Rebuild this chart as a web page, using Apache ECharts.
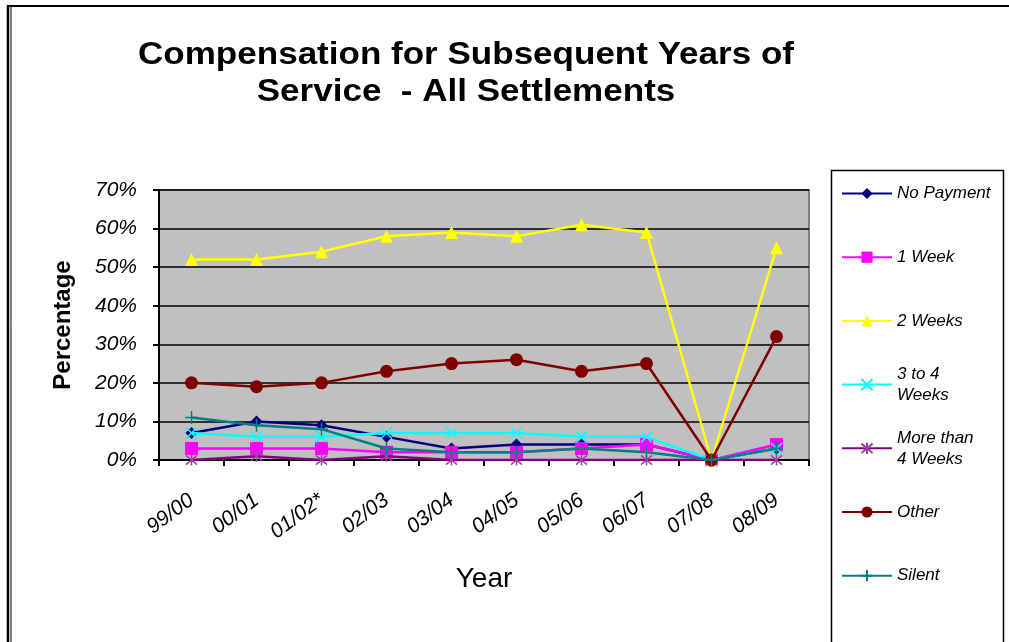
<!DOCTYPE html>
<html>
<head>
<meta charset="utf-8">
<script src="https://cdn.jsdelivr.net/npm/echarts@6/dist/echarts.min.js"></script>
<style>
  html, body { margin: 0; padding: 0; background: #fff; }
  #chart { width: 1009px; height: 642px; }
</style>
</head>
<body>
<div id="chart"></div>
<script>
// Settlement years on the category axis
const years = ['99/00', '00/01', '01/02*', '02/03', '03/04', '04/05', '05/06', '06/07', '07/08', '08/09'];

// Share of settlements (%) for each compensation type
const noPayment   = [7, 10, 9, 6, 3, 4, 4, 4, 0, 3];
const oneWeek     = [3, 3, 3, 2, 2, 2, 3, 4, 0, 4];
const twoWeeks    = [52, 52, 54, 58, 59, 58, 61, 59, 0, 55];
const threeToFour = [7, 6, 6, 7, 7, 7, 6, 6, 0, 3];
const moreThanFour = [0, 1, 0, 1, 0, 0, 0, 0, 0, 0];
const other       = [20, 19, 20, 23, 25, 26, 23, 25, 0, 32];
const silent      = [11, 9, 8, 3, 2, 2, 3, 2, 0, 3];

const yTicks = [0, 10, 20, 30, 40, 50, 60, 70];

const titleText = 'Compensation for Subsequent Years of\nService  - All Settlements';

const FONT = '"Liberation Sans", Arial, sans-serif';

const crossPath = 'path://M0,0L10,10M10,0L0,10';
const starPath = 'path://M0,0L10,10M10,0L0,10M5,-1L5,11';
const plusPath = 'path://M5,0L5,10M0,5L10,5';

const seriesDefs = [
  { name: 'No Payment', data: noPayment, color: '#000080', symbol: 'diamond', size: 12 },
  { name: '1 Week', data: oneWeek, color: '#FF00FF', symbol: 'rect', size: 13 },
  { name: '2 Weeks', data: twoWeeks, color: '#FFFF00', symbol: 'triangle', size: 13 },
  { name: '3 to 4 Weeks', data: threeToFour, color: '#00FFFF', symbol: crossPath, size: 11, stroke: true },
  { name: 'More than 4 Weeks', data: moreThanFour, color: '#800080', symbol: starPath, size: 11, stroke: true, markColor: '#A040A0' },
  { name: 'Other', data: other, color: '#800000', symbol: 'circle', size: 13 },
  { name: 'Silent', data: silent, color: '#008080', symbol: plusPath, size: 13, stroke: true }
];

const legendLabels = {
  '3 to 4 Weeks': '3 to 4\nWeeks',
  'More than 4 Weeks': 'More than\n4 Weeks'
};

const series = seriesDefs.map(function (d, i) {
  const mark = d.markColor || d.color;
  return {
    name: d.name,
    type: 'line',
    data: d.data,
    symbol: d.symbol,
    symbolSize: d.size,
    showAllSymbol: true,
    z: 2 + i,
    lineStyle: { color: d.color, width: 2.5 },
    itemStyle: d.stroke
      ? { color: mark, borderColor: mark, borderWidth: 1.5 }
      : { color: d.color, borderWidth: 0 },
    emphasis: { disabled: true },
    animation: false
  };
});

// One legend block per series so each entry sits at its own row
const legendTop0 = 178;
const legendStep = 63.7;
const legends = seriesDefs.map(function (d, i) {
  const twoLine = !!legendLabels[d.name];
  return {
    left: 836,
    top: legendTop0 + i * legendStep - (twoLine ? 21 : 0),
    orient: 'vertical',
    data: [d.name],
    itemWidth: 50,
    itemHeight: 14,
    itemGap: 5,
    selectedMode: false,
    formatter: function (n) { return legendLabels[n] || n; },
    textStyle: {
      fontFamily: FONT,
      fontStyle: 'italic',
      fontSize: 17,
      color: '#000',
      lineHeight: 21,
      padding: twoLine ? [21, 0, 0, 0] : 0
    }
  };
});

const chart = echarts.init(document.getElementById('chart'), null, { renderer: 'canvas' });

chart.setOption({
  backgroundColor: '#ffffff',
  animation: false,
  legend: legends,
  grid: {
    left: 159,
    right: 200,
    top: 190,
    bottom: 182,
    show: true,
    backgroundColor: '#C0C0C0',
    borderColor: '#808080',
    borderWidth: 2
  },
  xAxis: {
    type: 'category',
    data: years,
    boundaryGap: true,
    name: 'Year',
    nameLocation: 'middle',
    nameGap: 105,
    nameTextStyle: { fontFamily: FONT, fontSize: 28, color: '#000' },
    axisLine: { show: true, lineStyle: { color: '#000', width: 2 } },
    axisTick: { show: true, length: 6, lineStyle: { color: '#000', width: 2 } },
    axisLabel: {
      rotate: 37,
      margin: 38,
      fontFamily: FONT,
      fontStyle: 'italic',
      fontSize: 21,
      color: '#000'
    },
    splitLine: { show: false }
  },
  yAxis: {
    type: 'value',
    min: 0,
    max: 70,
    interval: 10,
    name: 'Percentage',
    nameLocation: 'middle',
    nameGap: 84,
    nameRotate: 90,
    nameTextStyle: { fontFamily: FONT, fontWeight: 'bold', fontSize: 24, color: '#000' },
    axisLine: { show: true, lineStyle: { color: '#000', width: 2 } },
    axisTick: { show: true, length: 6, lineStyle: { color: '#000', width: 2 } },
    axisLabel: {
      margin: 22,
      fontFamily: FONT,
      fontStyle: 'italic',
      fontSize: 21,
      color: '#000',
      formatter: function (v) { return yTicks.indexOf(v) >= 0 ? v + '%' : ''; }
    },
    splitLine: { show: true, lineStyle: { color: '#000', width: 1.5 } }
  },
  series: series,
  graphic: [
    // chart title, slightly widened type
    {
      type: 'text',
      x: 466,
      y: 37,
      scaleX: 1.13,
      silent: true,
      style: {
        text: titleText,
        x: 0,
        y: 0,
        align: 'center',
        verticalAlign: 'top',
        font: 'bold 31px ' + FONT,
        lineHeight: 37,
        fill: '#000'
      }
    },
    // outer frame
    { type: 'line', shape: { x1: 7, y1: 6, x2: 1009, y2: 6 }, style: { stroke: '#000', lineWidth: 2 }, silent: true },
    { type: 'line', shape: { x1: 8, y1: 5, x2: 8, y2: 642 }, style: { stroke: '#000', lineWidth: 2.5 }, silent: true },
    { type: 'line', shape: { x1: 11, y1: 7, x2: 11, y2: 642 }, style: { stroke: '#000', lineWidth: 1 }, silent: true },
    // legend box
    { type: 'rect', shape: { x: 831.5, y: 170.5, width: 172, height: 480 }, style: { fill: 'none', stroke: '#000', lineWidth: 1.5 }, z: -1, silent: true }
  ]
});
</script>
</body>
</html>
